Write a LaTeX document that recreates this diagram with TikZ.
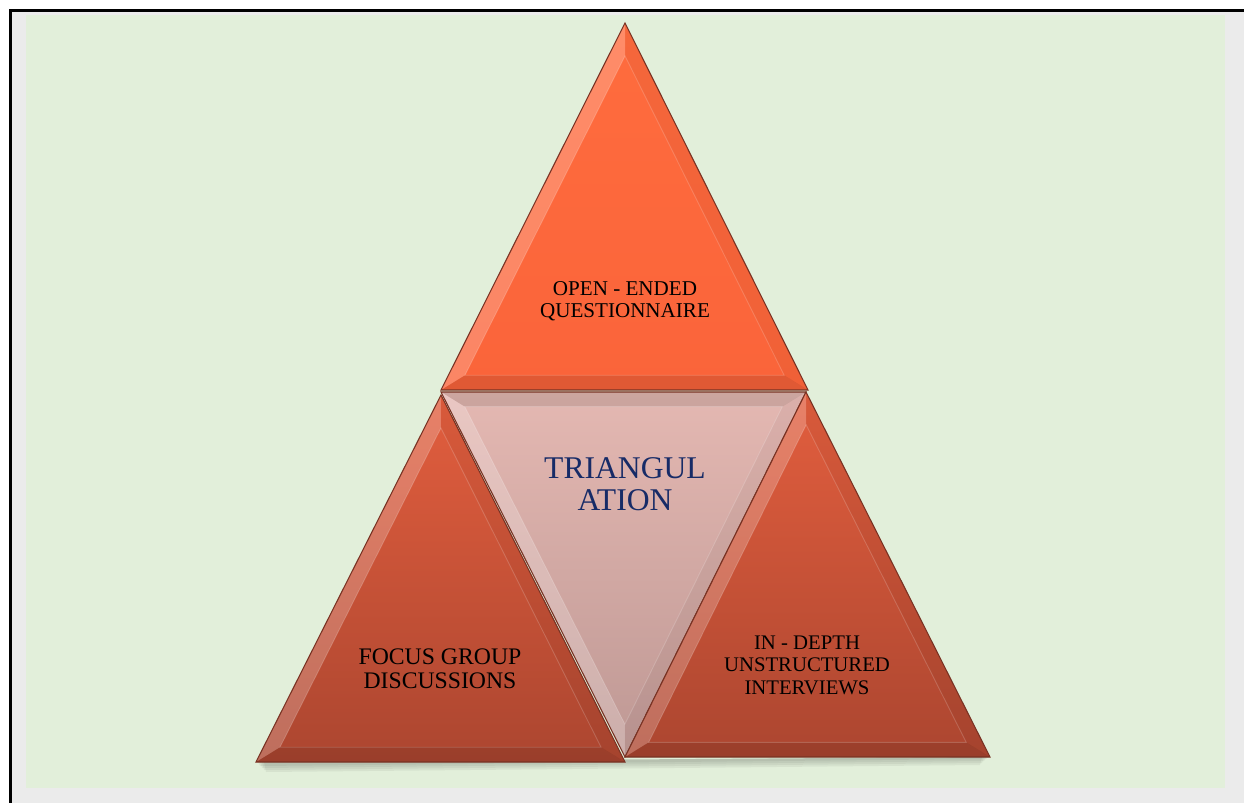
\documentclass[tikz,border=0pt]{standalone}
\usepackage{fontspec}
\setmainfont{Liberation Serif}
\usetikzlibrary{calc}
\definecolor{bggreen}{RGB}{226,239,218}
\definecolor{bggray}{RGB}{235,235,235}
\definecolor{topA}{RGB}{255,108,62}
\definecolor{topB}{RGB}{250,100,58}
\definecolor{sidetop}{RGB}{226,94,62}
\definecolor{sidebot}{RGB}{172,70,48}
\definecolor{midtop}{RGB}{228,184,178}
\definecolor{midbot}{RGB}{190,152,148}
\definecolor{navy}{RGB}{23,43,103}
\definecolor{edgecol}{RGB}{120,50,35}
\newcommand{\bevtri}[6]{%
  \coordinate (#1x) at ($(#4)!0.87!(#1)$);
  \coordinate (#2x) at ($(#4)!0.87!(#2)$);
  \coordinate (#3x) at ($(#4)!0.87!(#3)$);
  \shade[top color=#5,bottom color=#6] (#1)--(#2)--(#3)--cycle;
  \fill[hi] (#1)--(#2)--(#2x)--(#1x)--cycle;
  \fill[lo] (#2)--(#3)--(#3x)--(#2x)--cycle;
  \fill[lotwo] (#3)--(#1)--(#1x)--(#3x)--cycle;
  \draw[facet] (#1x)--(#2x)--(#3x)--cycle;
  \draw[tri] (#1)--(#2)--(#3)--cycle;
}
\begin{document}
\begin{tikzpicture}[x=0.02cm,y=-0.02cm,
 tri/.style={draw=edgecol, line width=0.6pt, line join=miter},
 facet/.style={draw=white, draw opacity=0.18, line width=0.5pt},
 lbl/.style={align=center, text=black, inner sep=0pt},
 hi/.style={fill=white, fill opacity=0.22},
 lo/.style={fill=black, fill opacity=0.10},
 lotwo/.style={fill=black, fill opacity=0.04},
 shadowcol/.style={fill=black, fill opacity=0.05},
]
\useasboundingbox (0,0) rectangle (1244,803);
\fill[bggray] (11,11) rectangle (1244,803);
\fill[bggreen] (26,15) rectangle (1225,788);
\draw[line width=1.7pt] (10.5,803) -- (10.5,11) -- (1244,11);

% coordinates
\coordinate (TA) at (625,23);
\coordinate (TB) at (441,390);
\coordinate (TC) at (808,390);
\coordinate (TI) at (625,276.6);
\coordinate (MA) at (625,757);
\coordinate (MB) at (441,392);
\coordinate (MC) at (806,392);
\coordinate (MI) at (624,504.7);
\coordinate (LA) at (441,395);
\coordinate (LB) at (256,762);
\coordinate (LC) at (625,762);
\coordinate (LI) at (440.5,648.3);
\coordinate (RA) at (806,392);
\coordinate (RB) at (625,757);
\coordinate (RC) at (990,757);
\coordinate (RI) at (807,644);

% soft shadow under the base
\foreach \d in {2,4,6,8}{
  \fill[shadowcol] ($(LB)+(\d,0)$) -- ($(RC)+(-\d,0)$) -- ($(RC)+(-\d-2,\d)$) -- ($(LB)+(\d+2,\d+2)$) -- cycle;
}

\bevtri{TA}{TB}{TC}{TI}{topA}{topB}
\bevtri{MA}{MB}{MC}{MI}{midtop}{midbot}
\bevtri{LA}{LB}{LC}{LI}{sidetop}{sidebot}
\bevtri{RA}{RB}{RC}{RI}{sidetop}{sidebot}

\node[lbl, font=\fontsize{12}{12.4}\selectfont] (q) at (625,301) {OPEN - ENDED\\QUESTIONNAIRE};
\node[lbl, text=navy, font=\fontsize{18}{18.3}\selectfont] (t) at (625,484) {TRIANGUL\\ATION};
\node[lbl, font=\fontsize{13.5}{13.7}\selectfont] (f) at (440,669) {FOCUS GROUP\\DISCUSSIONS};
\node[lbl, font=\fontsize{11.8}{12.8}\selectfont] (i) at (807,665) {IN - DEPTH\\UNSTRUCTURED\\INTERVIEWS};
\end{tikzpicture}
\end{document}
